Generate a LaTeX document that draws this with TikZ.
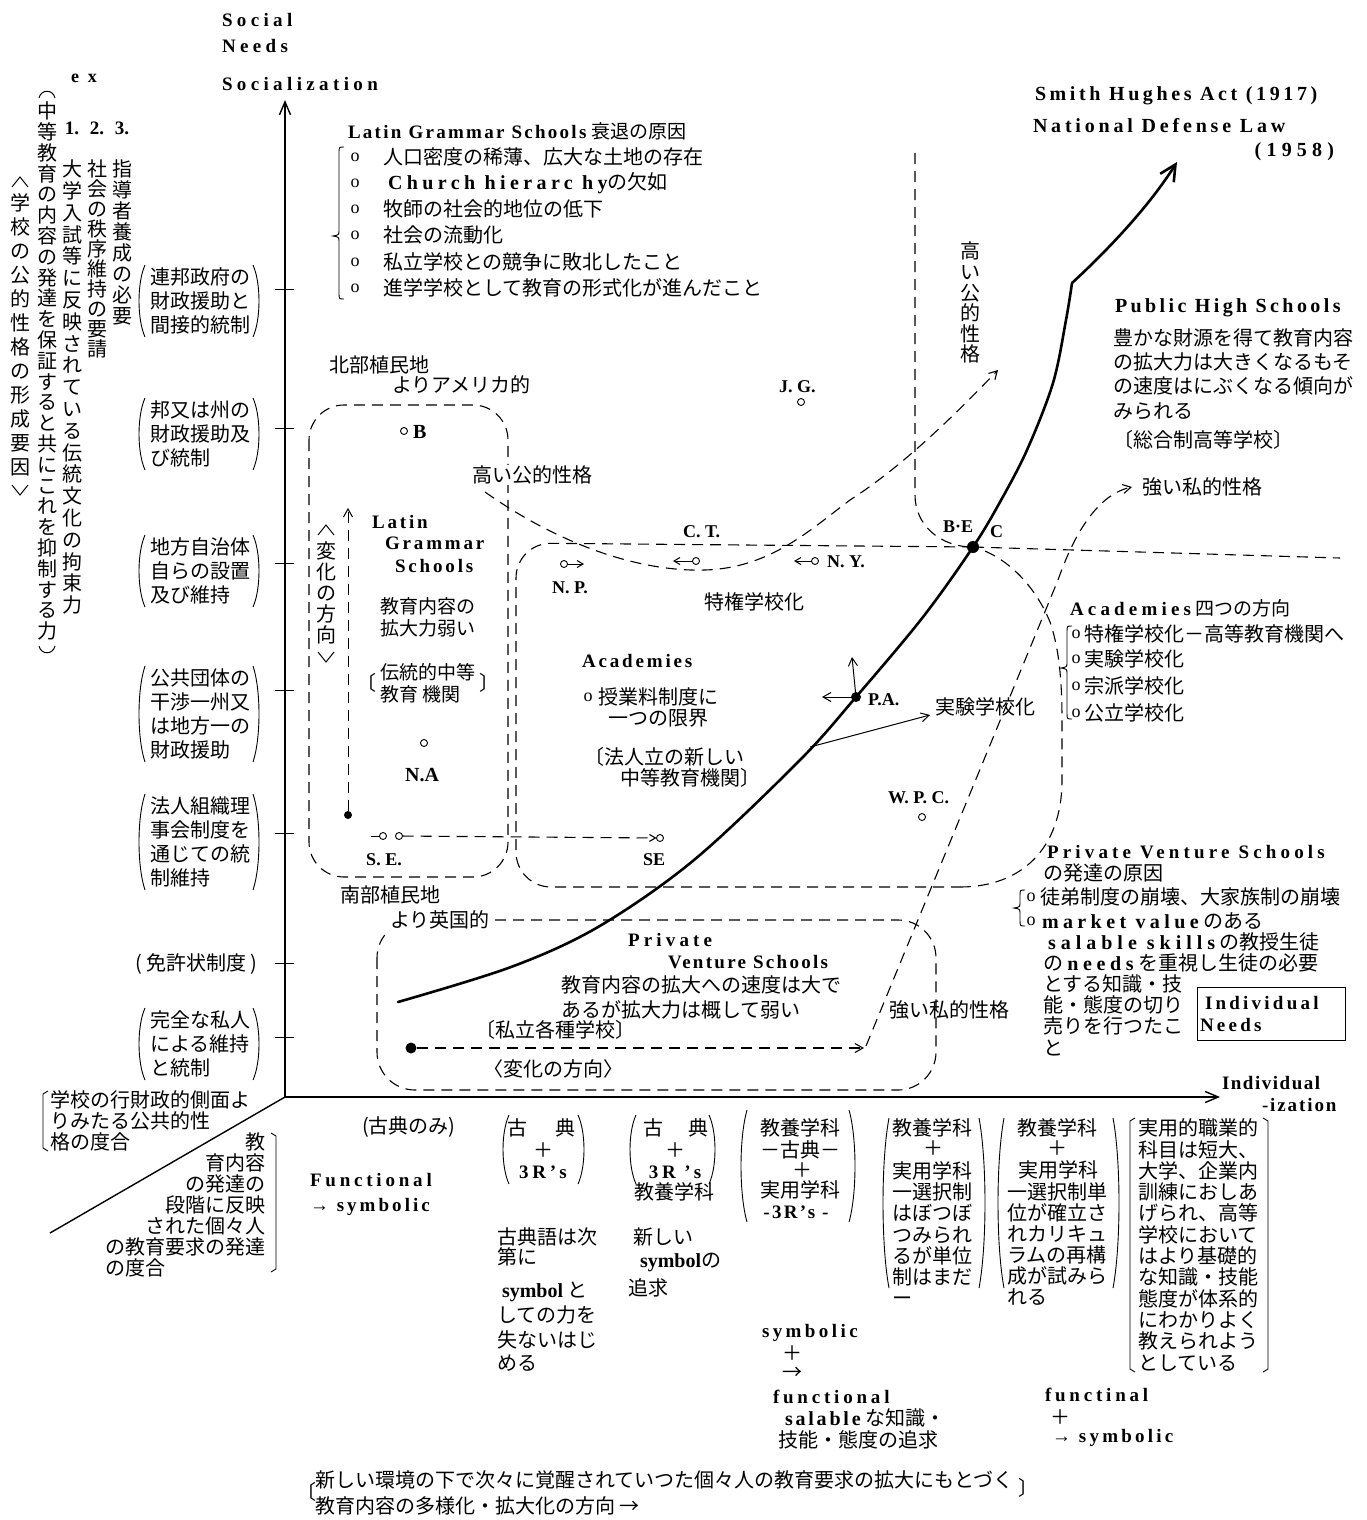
\documentclass[tikz,border=0pt]{standalone}
\usepackage{fontspec}
\setmainfont{Liberation Serif}
\newfontfamily\jp{Noto Sans CJK JP}
\usetikzlibrary{arrows.meta}
\makeatletter
\newcommand\vst[2]{\vbox{\baselineskip=#1pt\lineskiplimit=-100pt\lineskip=0pt\relax\@tfor\vch:=#2\do{\hbox to 1em{\hss\vch\hss}}}}
\makeatother
\newcommand\blank{\phantom{中}}
\newcommand\LS[2]{{\addfontfeatures{LetterSpace=#1}#2}}
\newcommand\EL[2]{{\rmfamily\bfseries\addfontfeatures{LetterSpace=#1}#2}}
\newcommand\E[1]{{\rmfamily\bfseries #1}}
\newcommand\JM[1]{{\jp\mdseries #1}}
\newcommand\prn[4]{\draw[line width=0.9pt] ({#1+4},#3) .. controls ({#1-4},{#3+0.25*(#4-#3)}) and ({#1-4},{#3+0.75*(#4-#3)}) .. ({#1+4},#4);
 \draw[line width=0.9pt] ({#2-4},#3) .. controls ({#2+4},{#3+0.25*(#4-#3)}) and ({#2+4},{#3+0.75*(#4-#3)}) .. ({#2-4},#4);}
\newcommand\cbr[4]{\draw[line width=0.9pt] ({#1+5},#2) .. controls (#1,#2) .. (#1,{#2+6}) -- (#1,{#4-6}) .. controls (#1,{#4-1}) .. ({#1-6},#4) .. controls (#1,{#4+1}) .. (#1,{#4+6}) -- (#1,{#3-6}) .. controls (#1,#3) .. ({#1+5},#3);}
\newcommand\sbl[3]{\draw[line width=0.9pt] ({#1+5},#2) -- (#1,{#2+3}) -- (#1,{#3-3}) -- ({#1+5},#3);}
\newcommand\sbr[3]{\draw[line width=0.9pt] ({#1-5},#2) -- (#1,{#2+3}) -- (#1,{#3-3}) -- ({#1-5},#3);}
% vertical brackets: x, y(center)
\newcommand\vup[2]{\draw[line width=1pt] ({#1-8},{#2+5}) -- (#1,{#2-5}) -- ({#1+8},{#2+5});}
\newcommand\vdn[2]{\draw[line width=1pt] ({#1-8},{#2-5}) -- (#1,{#2+5}) -- ({#1+8},{#2-5});}
\newcommand\vop[2]{\draw[line width=1pt] ({#1-8},{#2+5}) .. controls ({#1-6},{#2-4}) and ({#1+6},{#2-4}) .. ({#1+8},{#2+5});}
\newcommand\vcl[2]{\draw[line width=1pt] ({#1-8},{#2-5}) .. controls ({#1-6},{#2+4}) and ({#1+6},{#2+4}) .. ({#1+8},{#2-5});}
\begin{document}
\begin{tikzpicture}[x=1pt,y=-1pt,
 every node/.style={inner sep=0pt,outer sep=0pt},
 J/.style={font=\jp\fontsize{20}{22}\selectfont},
 JL/.style={font=\jp\fontsize{20}{24}\selectfont,align=left},
 L/.style={font=\bfseries\fontsize{19}{22}\selectfont},
 dsh/.style={dash pattern=on 11pt off 7pt,line width=1.1pt},
 thn/.style={line width=1pt},
 barb/.style={-{Straight Barb[length=8pt,width=9pt]}},
 sbarb/.style={-{Straight Barb[length=6pt,width=7pt]}},
 dotf/.style={circle,fill=black,minimum size=10pt},
 ring/.style={circle,draw,fill=white,line width=0.9pt,minimum size=7pt}]
\useasboundingbox (0,0) rectangle (1367,1520);
% ---------- axes
\coordinate (O) at (285,1097);
\coordinate (ytip) at (285,100);
\coordinate (xtip) at (1220,1097);
\coordinate (dend) at (50,1233);
\draw[line width=1.4pt,-{Straight Barb[length=13pt,width=11pt]}] (O) -- (ytip);
\draw[line width=1.4pt,-{Straight Barb[length=13pt,width=11pt]}] (O) -- (xtip);
\draw[line width=1.4pt] (O) -- (dend);
\foreach \t in {289,428,563,690,833,963,1037} \draw[line width=1pt] (275,\t) -- (294,\t);
% ---------- dashed regions
\draw[dsh,rounded corners=35pt] (309,405) rectangle (508,877);
\coordinate (becc) at (973,547);
\draw[dsh,rounded corners=35pt] (becc) -- (516,543) -- (516,887) -- (960,887);
\draw[dsh] (960,887) .. controls (1020,887) and (1062,850) .. (1062,780) -- (1062,720) .. controls (1062,675) and (1058,645) .. (1050,622) .. controls (1035,585) and (1005,555) .. (becc);
\draw[dsh] (915,153) -- (915,495) .. controls (915,525) and (940,547) .. (becc);
\draw[dsh] (becc) -- (1340,558);
\draw[dsh,rounded corners=38pt] (377,920) rectangle (936,1090);
\coordinate (hk1) at (485,492);
\coordinate (hk2) at (998,370);
\draw[dsh,barb] (hk1) .. controls (560,545) and (640,572) .. (705,570) .. controls (770,568) and (810,530) .. (850,500) .. controls (900,468) and (950,420) .. (hk2);
\node[dotf,minimum size=11pt] (pvdot) at (411,1048) {};
\coordinate (pvend) at (864,1048);
\draw[dsh,barb] (pvdot) -- (pvend);
\coordinate (tsk0) at (866,1046);
\coordinate (tsk) at (1132,487);
\draw[dsh,barb] (tsk0) -- (1058,580) .. controls (1072,540) and (1095,495) .. (tsk);
% S.E.
\node[ring] (se1) at (383,836) {};
\node[ring] (se2) at (399,836) {};
\node[ring] (se3) at (660,838) {};
\draw[thn] (371,836) -- (se1);
\draw[dsh,sbarb] (se2) -- (se3);
% Latin up arrow
\node[dotf,minimum size=8pt] (lgdot) at (348,815) {};
\coordinate (lgup) at (348,508);
\draw[dsh,barb,line width=1pt] (lgdot) -- (lgup);
% ---------- main curve
\draw[line width=2.6pt,line cap=round] plot[smooth,tension=0.55] coordinates {(398,1002) (511,967) (598,927) (694,860) (800,760) (856,697) (923,617) (973,547) (1000,502) (1027,450) (1053,383) (1066,320) (1072,283)};
\coordinate (kink) at (1072,283);
\coordinate (mtip) at (1177,162);
\draw[line width=2.6pt,-{Straight Barb[length=16pt,width=16pt]}] (kink) .. controls (1110,248) and (1150,205) .. (mtip);
\node[dotf,minimum size=12pt] (bec) at (becc) {};
\node[dotf,minimum size=10pt] (pa) at (856,697) {};
\coordinate (paup) at (852,657);
\coordinate (pale) at (822,697);
\draw[thn,barb] (pa.center) -- (paup);
\draw[thn,barb] (pa.center) -- (pale);
\coordinate (cv1) at (810,747);
\coordinate (jkt) at (930,715);
\draw[thn,barb] (cv1) -- (jkt);
% small circles
\node[ring] (npr) at (564,564) {}; \coordinate (npa) at (584,564); \draw[thn,sbarb] (npr) -- (npa);
\node[ring] (ctr) at (696,561) {}; \coordinate (cta) at (673,561); \draw[thn,sbarb] (ctr) -- (cta);
\node[ring] (nyr) at (815,561) {}; \coordinate (nya) at (794,561); \draw[thn,sbarb] (nyr) -- (nya);
\node[ring] (brg) at (404,431) {};
\node[ring] (nar) at (424,743) {};
\node[ring] (jgr) at (801,402) {};
\node[ring] (wpr) at (922,817) {};
% ---------- top-left texts
\node[L,font=\bfseries\fontsize{18}{20}\selectfont] (ex) at (84,78) {\LS{50}{ex}};
\node[L] (n1) at (72,128) {1.};
\node[L] (n2) at (97,128) {2.};
\node[L] (n3) at (122,128) {3.};
\node[J,anchor=north] (c1) at (122,160) {\vst{21}{指導者養成の必要}};
\node[J,anchor=north] (c2) at (97,160) {\vst{20}{社会の秩序維持の要請}};
\node[J,anchor=north] (c3) at (72,160) {\vst{21.8}{大学入試等に反映されている伝統文化の拘束力}};
\node[J,anchor=north] (c4) at (47,81) {\vst{20.8}{{\blank}中等教育の内容の発達を保証すると共にこれを抑制する力{\blank}}};
\vop{47}{93}
\vcl{47}{651}
\node[J,anchor=north] (c5) at (20,170) {\vst{24}{{\blank}学校の公的性格の形成要因{\blank}}};
\vup{20}{182}
\vdn{20}{490}
\node[L,anchor=west] (soc) at (222,20) {\LS{23}{Social}};
\node[L,anchor=west] (need) at (222,46) {\LS{23}{Needs}};
\node[L,anchor=west] (soz) at (222,84) {\LS{23}{Socialization}};
% ---------- left labels
\node[JL,anchor=west] (l1) at (150,301) {連邦政府の\\財政援助と\\間接的統制};
\prn{141}{257}{265}{337}
\node[JL,anchor=west] (l2) at (150,434) {邦又は州の\\財政援助及\\び統制};
\prn{141}{257}{398}{470}
\node[JL,anchor=west] (l3) at (150,571) {地方自治体\\自らの設置\\及び維持};
\prn{141}{257}{535}{607}
\node[JL,anchor=west] (l4) at (150,714) {公共団体の\\干渉一州又\\は地方一の\\財政援助};
\prn{141}{257}{666}{762}
\node[JL,anchor=west] (l5) at (150,842) {法人組織理\\事会制度を\\通じての統\\制維持};
\prn{141}{257}{794}{890}
\node[J,anchor=west] (l6) at (135,964) {( 免許状制度 )};
\node[JL,anchor=west] (l7) at (150,1044) {完全な私人\\による維持\\と統制};
\prn{141}{257}{1008}{1080}
% ---------- Latin Grammar Schools list
\node[L,anchor=west] (lgt) at (348,131) {\LS{12}{Latin Grammar Schools} \JM{衰退の原因}};
\foreach \yy [count=\i] in {157,183,209,235,262,288} \node[font=\fontsize{18}{20}\selectfont] (bu\i) at (355,\yy) {o};
\node[J,anchor=west] (lg1) at (383,157) {人口密度の稀薄、広大な土地の存在};
\node[J,anchor=west] (lg2) at (388,183) {\EL{22}{Church hierarc hy}の欠如};
\node[J,anchor=west] (lg3) at (383,209) {牧師の社会的地位の低下};
\node[J,anchor=west] (lg4) at (383,235) {社会の流動化};
\node[J,anchor=west] (lg5) at (383,262) {私立学校との競争に敗北したこと};
\node[J,anchor=west] (lg6) at (383,288) {進学学校として教育の形式化が進んだこと};
\cbr{339}{147}{299}{236}
% ---------- Latin box contents
\node[J,anchor=west] (hok) at (329,365) {北部植民地};
\node[J,anchor=west] (ame) at (392,385) {よりアメリカ的};
\node[L,anchor=west,font=\bfseries\fontsize{20}{22}\selectfont] (bB) at (413,432) {B};
\node[J,anchor=west,fill=white,inner sep=1pt] (hk) at (471,475) {高い公的性格};
\node[J,anchor=north] (hen) at (326,520) {\vst{21.2}{{\blank}変化の方向{\blank}}};
\vup{326}{530}
\vdn{326}{657}
\node[L,anchor=west] (lat1) at (372,522) {\LS{15}{Latin}};
\node[L,anchor=west] (lat2) at (385,543) {\LS{15}{Grammar}};
\node[L,anchor=west] (lat3) at (395,566) {\LS{15}{Schools}};
\node[JL,anchor=west,font=\jp\fontsize{19}{22}\selectfont] (lgk) at (380,617) {教育内容の\\拡大力弱い};
\node[J,anchor=east] (bk1) at (376,683) {〔};
\node[JL,anchor=west,font=\jp\fontsize{19}{22}\selectfont] (lgd) at (380,683) {伝統的中等\\教育 機関};
\node[J,anchor=west] (bk2) at (479,683) {〕};
\node[L,font=\bfseries\fontsize{20}{22}\selectfont] (na) at (422,775) {N.A};
\node[L,font=\bfseries\fontsize{18}{22}\selectfont] (sel) at (384,860) {S. E.};
\node[L,font=\bfseries\fontsize{18}{22}\selectfont] (ser) at (654,860) {SE};
% ---------- Academies contents
\node[L,anchor=west,font=\bfseries\fontsize{18}{22}\selectfont] (ct) at (683,532) {C. T.};
\node[L,anchor=west,font=\bfseries\fontsize{18}{22}\selectfont] (np) at (552,588) {N. P.};
\node[L,anchor=west,font=\bfseries\fontsize{18}{22}\selectfont] (ny) at (827,562) {N. Y.};
\node[L,anchor=west,font=\bfseries\fontsize{18}{22}\selectfont] (jg) at (779,387) {J. G.};
\node[L,anchor=west,font=\bfseries\fontsize{18}{22}\selectfont] (wpc) at (888,798) {W. P. C.};
\node[L,anchor=west,font=\bfseries\fontsize{18}{22}\selectfont] (pat) at (868,700) {P.A.};
\node[L,anchor=west,font=\bfseries\fontsize{18}{22}\selectfont] (be) at (943,527) {B·E};
\node[L,anchor=west,font=\bfseries\fontsize{18}{22}\selectfont] (cc) at (990,532) {C};
\node[J,anchor=west] (tok) at (704,602) {特権学校化};
\node[L,anchor=west] (aca) at (582,661) {\LS{15}{Academies}};
\node[font=\fontsize{18}{20}\selectfont] (abu) at (588,697) {o};
\node[J,anchor=west] (ac1) at (598,697) {授業料制度に};
\node[J,anchor=west] (ac2) at (608,718) {一つの限界};
\node[J,anchor=west] (ac3) at (584,757) {〔法人立の新しい};
\node[J,anchor=west] (ac4) at (620,778) {中等教育機関〕};
\node[J,anchor=west] (jik) at (935,707) {実験学校化};
% ---------- top right
\node[L,anchor=west,font=\bfseries\fontsize{20}{22}\selectfont] (sha) at (1035,96) {\LS{18}{Smith Hughes Act (1917)}};
\node[L,anchor=west,font=\bfseries\fontsize{20}{22}\selectfont] (ndl) at (1033,126) {\LS{19}{National Defense Law}};
\node[L,anchor=east,font=\bfseries\fontsize{20}{22}\selectfont] (y58) at (1334,152) {\LS{26}{(1958)}};
\node[J,anchor=north] (hkv) at (970,242) {\vst{20.6}{高い公的性格}};
\node[L,anchor=west,font=\bfseries\fontsize{20}{22}\selectfont] (phs) at (1115,308) {\LS{17}{Public High Schools}};
\node[JL,anchor=west,font=\jp\fontsize{20}{24.3}\selectfont] (phd) at (1113,374) {豊かな財源を得て教育内容\\の拡大力は大きくなるもそ\\の速度はにぶくなる傾向が\\みられる};
\node[J,anchor=west] (sog) at (1113,440) {〔総合制高等学校〕};
\node[J,anchor=west] (tsh) at (1142,487) {強い私的性格};
% ---------- right lower
\node[L,anchor=west] (a4) at (1070,608) {\LS{22}{Academies} \JM{四つの方向}};
\cbr{1067}{626}{719}{668}
\foreach \yy [count=\i] in {634,659,686,713} \node[font=\fontsize{18}{20}\selectfont] (abx\i) at (1076,\yy) {o};
\node[J,anchor=west] (a41) at (1084,634) {特権学校化－高等教育機関へ};
\node[J,anchor=west] (a42) at (1084,659) {実験学校化};
\node[J,anchor=west] (a43) at (1084,686) {宗派学校化};
\node[J,anchor=west] (a44) at (1084,713) {公立学校化};
\node[L,anchor=west] (pvs) at (1047,852) {\LS{22}{Private Venture Schools}};
\node[J,anchor=west] (pvh) at (1043,873) {の発達の原因};
\cbr{1020}{890}{926}{908}
\node[font=\fontsize{18}{20}\selectfont] (pbu1) at (1031,897) {o};
\node[font=\fontsize{18}{20}\selectfont] (pbu2) at (1031,921) {o};
\node[J,anchor=west] (pv1) at (1040,897) {徒弟制度の崩壊、大家族制の崩壊};
\node[J,anchor=west] (pv2) at (1042,921) {\EL{22}{market value} のある};
\node[J,anchor=west] (pv3) at (1048,942) {\EL{25}{salable skills} の教授生徒};
\node[J,anchor=west] (pv4) at (1043,963) {の \EL{23}{needs} を重視し生徒の必要};
\node[JL,anchor=west,font=\jp\fontsize{20}{21.3}\selectfont] (pv5) at (1043,1015) {とする知識・技\\能・態度の切り\\売りを行つたこ\\と};
\node[draw,line width=1pt,anchor=north west,minimum width=148pt,minimum height=53pt] (indb) at (1197,987) {};
\node[L,anchor=west] (ind1) at (1205,1003) {\LS{17}{Individual}};
\node[L,anchor=west] (ind2) at (1200,1025) {\LS{17}{Needs}};
% ---------- Private Venture box contents
\node[J,anchor=west] (nan) at (340,895) {南部植民地};
\node[J,anchor=west,fill=white,inner sep=1pt] (eik) at (389,920) {より英国的};
\node[L,anchor=west] (pv) at (628,940) {\LS{22}{Private}};
\node[L,anchor=west] (vs) at (668,962) {\LS{12}{Venture Schools}};
\node[J,anchor=west] (pvt1) at (561,985) {教育内容の拡大への速度は大で};
\node[J,anchor=west] (pvt2) at (561,1010) {あるが拡大力は概して弱い};
\node[J,anchor=west] (pvt3) at (475,1030) {〔私立各種学校〕};
\node[J,anchor=west] (pvt4) at (483,1069) {〈変化の方向〉};
\node[J,anchor=west] (tsl) at (889,1010) {強い私的性格};
% ---------- axis labels
\node[L,anchor=west] (indl) at (1222,1083) {\LS{8}{Individual}};
\node[L,anchor=west] (izl) at (1262,1105) {\LS{10}{-ization}};
% ---------- bottom left
\node[JL,anchor=west,font=\jp\fontsize{20}{21}\selectfont] (bl1) at (50,1121) {学校の行財政的側面よ\\ りみたる公共的性\\格の度合};
\sbl{43}{1091}{1151}
\node[font=\jp\fontsize{20}{21}\selectfont,align=right,anchor=east] (bl2) at (265,1194.5) {教\\育内容\\の発達の\\段階に反映\\された個々人\\の教育要求の発達};
\node[J,anchor=west] (bl3) at (105,1268) {の度合};
\sbr{276}{1133}{1272}
\node[J,anchor=west] (kto) at (362,1127) {(古典のみ)};
\node[L,anchor=west] (fun) at (310,1180) {\LS{20}{Functional}};
\node[L,anchor=west] (fsy) at (310,1207) {\LS{16}{→ symbolic}};
% ---------- bottom columns
\node[J] (a1) at (517,1128) {古};
\node[J] (a2) at (565,1128) {典};
\node[J] (a3) at (543,1150) {＋};
\node[L] (a4x) at (543,1172) {\LS{20}{3R's}};
\prn{505}{582}{1115}{1184}
\node[J,anchor=west] (at1) at (497,1237) {古典語は次};
\node[J,anchor=west] (at2) at (497,1257) {第に};
\node[J,anchor=west] (at3) at (502,1292) {\E{symbol} と};
\node[J,anchor=west] (at4) at (497,1315) {しての力を};
\node[J,anchor=west] (at5) at (497,1340) {失ないはじ};
\node[J,anchor=west] (at6) at (497,1363) {める};
\node[J] (b1) at (653,1128) {古};
\node[J] (b2) at (698,1128) {典};
\node[J] (b3) at (675,1150) {＋};
\node[L] (b4) at (675,1172) {\LS{20}{3R 's}};
\prn{632}{713}{1115}{1184}
\node[J] (b5) at (674,1192) {教養学科};
\node[J,anchor=west] (bt1) at (633,1237) {新しい};
\node[J,anchor=west] (bt2) at (640,1262) {\E{symbol}の};
\node[J,anchor=west] (bt3) at (628,1288) {追求};
\node[J] (cc1) at (800,1128) {教養学科};
\node[J] (cc2) at (800,1150) {－古典－};
\node[J] (cc3) at (802,1170) {＋};
\node[J] (cc4) at (800,1190) {実用学科};
\node[L] (cc5) at (796,1212) {\LS{12}{-3R's -}};
\prn{743}{853}{1110}{1222}
\node[L,anchor=west] (cs1) at (762,1333) {\LS{18}{symbolic}};
\node[J] (cs2) at (792,1353) {＋};
\node[J] (cs3) at (792,1373) {→};
\node[L,anchor=west] (cs4) at (773,1397) {\LS{20}{functional}};
\node[J,anchor=west] (cs5) at (785,1418) {\EL{14}{salable} な知識・};
\node[J,anchor=west] (cs6) at (778,1440) {技能・態度の追求};
\node[J,anchor=west] (d1) at (892,1128) {教養学科};
\node[J] (d2) at (933,1148) {＋};
\node[JL,anchor=west,font=\jp\fontsize{20}{21.2}\selectfont] (d3) at (892,1233.6) {実用学科\\一選択制\\はぼつぼ\\つみられ\\るが単位\\制はまだ\\ー};
\prn{885}{983}{1118}{1288}
\node[J,anchor=west] (e1) at (1017,1128) {教養学科};
\node[J] (e2) at (1057,1148) {＋};
\node[J,anchor=west] (e3) at (1018,1170) {実用学科};
\node[JL,anchor=west,font=\jp\fontsize{20}{21}\selectfont] (e4) at (1007,1244.5) {一選択制単\\位が確立さ\\れカリキュ\\ラムの再構\\成が試みら\\れる};
\prn{1000}{1117}{1118}{1288}
\node[JL,anchor=west,font=\jp\fontsize{20}{21.3}\selectfont] (f1) at (1138,1245) {実用的職業的\\科目は短大、\\大学、企業内\\訓練におしあ\\げられ、高等\\学校において\\はより基礎的\\な知識・技能\\態度が体系的\\にわかりよく\\教えられよう\\としている};
\sbl{1130}{1118}{1372}
\sbr{1268}{1118}{1372}
\node[L,anchor=west] (g1) at (1045,1395) {\LS{20}{functinal}};
\node[J] (g2) at (1060,1417) {＋};
\node[L,anchor=west] (g3) at (1052,1438) {\LS{17}{→ symbolic}};
% ---------- bottom caption
\node[J] (bkl) at (306,1492) {〔};
\node[J,anchor=west] (bot1) at (315,1480) {新しい環境の下で次々に覚醒されていつた個々人の教育要求の拡大にもとづく};
\node[J,anchor=west] (bot2) at (315,1506) {教育内容の多様化・拡大化の方向 →};
\node[J] (bkr) at (1028,1488) {〕};
\end{tikzpicture}
\end{document}
